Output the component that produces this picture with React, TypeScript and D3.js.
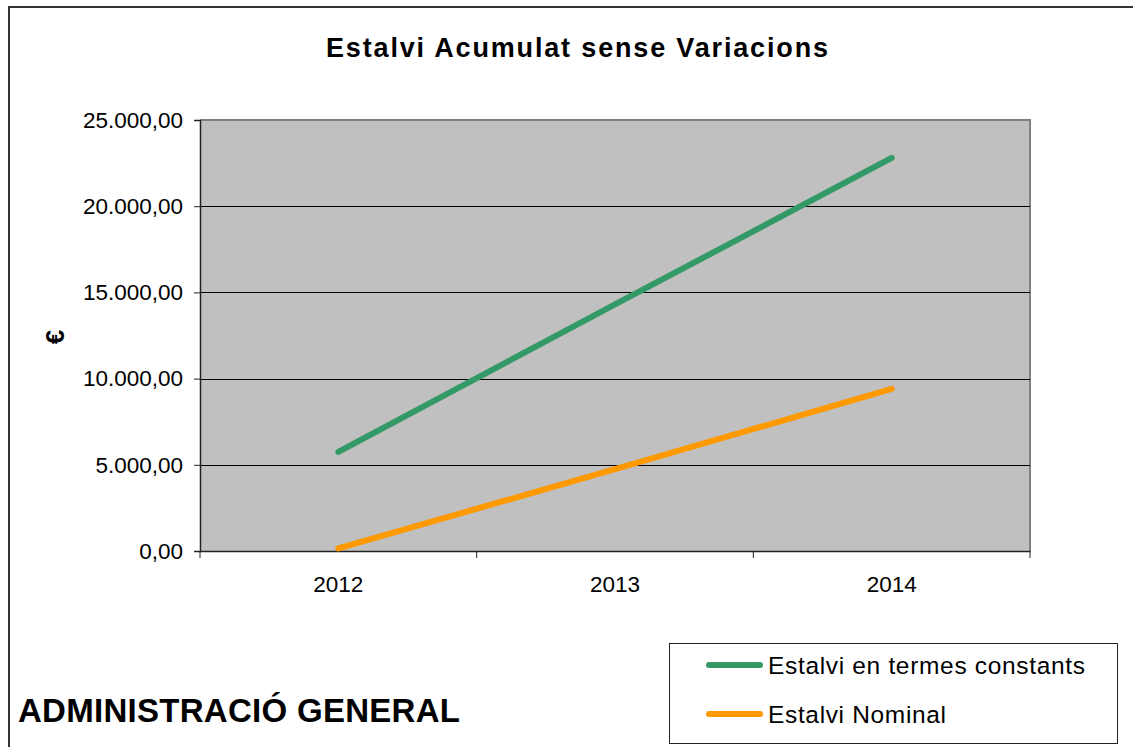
import { useEffect, useRef } from "react";
import * as d3 from "d3";

const years = ["2012", "2013", "2014"];
const constants = [5750, 14300, 22800];
const nominal = [150, 4750, 9400];
const yTicks = [0, 5000, 10000, 15000, 20000, 25000];

const series = [
  { name: "Estalvi en termes constants", values: constants, color: "#339966" },
  { name: "Estalvi Nominal", values: nominal, color: "#ff9900" },
];

const font = "'Liberation Sans', Arial, sans-serif";

const App = () => {
  const svgRef = useRef<SVGSVGElement>(null);

  useEffect(() => {
    const W = 1133;
    const H = 747;
    // plot area in page coords
    const plot = { left: 200, top: 120, right: 1030, bottom: 551 };

    d3.select(svgRef.current).selectAll("*").remove();
    const svg = d3
      .select(svgRef.current)
      .attr("width", W)
      .attr("height", H)
      .style("font-family", font);

    // chart frame (runs off the right/bottom of the page)
    svg
      .append("rect")
      .attr("x", 9)
      .attr("y", 7)
      .attr("width", 1160)
      .attr("height", 780)
      .attr("fill", "white")
      .attr("stroke", "#333")
      .attr("stroke-width", 2);

    const locale = d3.formatLocale({
      decimal: ",",
      thousands: ".",
      grouping: [3],
      currency: ["", "€"],
    });
    const fmt = locale.format(",.2f");

    const x = d3
      .scaleBand()
      .domain(years)
      .range([plot.left, plot.right]);

    const y = d3
      .scaleLinear()
      .domain([0, 25000])
      .range([plot.bottom, plot.top]);

    // plot background
    svg
      .append("rect")
      .attr("x", plot.left)
      .attr("y", plot.top)
      .attr("width", plot.right - plot.left)
      .attr("height", plot.bottom - plot.top)
      .attr("fill", "#c0c0c0");

    // top and right border
    svg
      .append("path")
      .attr("d", `M${plot.left},${plot.top}H${plot.right}V${plot.bottom}`)
      .attr("fill", "none")
      .attr("stroke", "#808080")
      .attr("stroke-width", 2);

    // gridlines
    svg
      .append("g")
      .selectAll("line")
      .data(yTicks.slice(1, -1))
      .enter()
      .append("line")
      .attr("x1", plot.left)
      .attr("x2", plot.right)
      .attr("y1", (d) => Math.round(y(d)) + 0.5)
      .attr("y2", (d) => Math.round(y(d)) + 0.5)
      .attr("stroke", "black")
      .attr("stroke-width", 1);

    // Y axis
    const yAxis = svg
      .append("g")
      .attr("transform", `translate(${plot.left},0)`)
      .call(
        d3
          .axisLeft(y)
          .tickValues(yTicks)
          .tickSize(6)
          .tickPadding(11)
          .tickFormat((d) => fmt(d as number))
      );
    yAxis.select(".domain").attr("stroke", "#222").attr("stroke-width", 1.5);
    yAxis.selectAll(".tick line").attr("stroke", "#222");
    yAxis
      .selectAll("text")
      .attr("fill", "black")
      .style("font-family", font)
      .style("font-size", "22.5px");

    // X axis (ticks between categories)
    const xAxis = svg
      .append("g")
      .attr("transform", `translate(0,${plot.bottom})`)
      .call(d3.axisBottom(x).tickSize(0).tickPadding(25));
    xAxis.select(".domain").attr("stroke", "#222").attr("stroke-width", 1.5);
    xAxis
      .selectAll("text")
      .attr("fill", "black")
      .style("font-family", font)
      .style("font-size", "22.5px");

    const bounds = [...years.map((d) => x(d) as number), plot.right];
    svg
      .append("g")
      .selectAll("line")
      .data(bounds)
      .enter()
      .append("line")
      .attr("x1", (d) => d)
      .attr("x2", (d) => d)
      .attr("y1", plot.bottom)
      .attr("y2", plot.bottom + 7)
      .attr("stroke", "#222");

    // lines
    const line = d3
      .line<number>()
      .x((_, i) => (x(years[i]) as number) + x.bandwidth() / 2)
      .y((d) => y(d));

    series.forEach((s) => {
      svg
        .append("path")
        .datum(s.values)
        .attr("fill", "none")
        .attr("stroke", s.color)
        .attr("stroke-width", 6)
        .attr("stroke-linecap", "round")
        .attr("stroke-linejoin", "round")
        .attr("d", line);
    });

    // title
    svg
      .append("text")
      .attr("x", 326)
      .attr("y", 57)
      .attr("textLength", 502)
      .attr("lengthAdjust", "spacing")
      .style("font-size", "27px")
      .style("font-weight", "bold")
      .text("Estalvi Acumulat sense Variacions");

    // y axis title
    svg
      .append("text")
      .attr("transform", "translate(64,337) rotate(-90)")
      .attr("text-anchor", "middle")
      .style("font-size", "26px")
      .style("font-weight", "bold")
      .text("€");

    // footer label
    svg
      .append("text")
      .attr("x", 18)
      .attr("y", 722)
      .attr("textLength", 442)
      .attr("lengthAdjust", "spacing")
      .style("font-size", "33px")
      .style("font-weight", "bold")
      .text("ADMINISTRACIÓ GENERAL");

    // legend
    const legend = svg.append("g");
    legend
      .append("rect")
      .attr("x", 669.5)
      .attr("y", 643.5)
      .attr("width", 448)
      .attr("height", 100)
      .attr("fill", "white")
      .attr("stroke", "#222")
      .attr("stroke-width", 1);

    const legendWidths = [317, 178];
    series.forEach((s, i) => {
      const ly = 665 + i * 49;
      legend
        .append("line")
        .attr("x1", 709)
        .attr("x2", 760)
        .attr("y1", ly)
        .attr("y2", ly)
        .attr("stroke", s.color)
        .attr("stroke-width", 6)
        .attr("stroke-linecap", "round");
      legend
        .append("text")
        .attr("x", 768)
        .attr("y", ly + 9)
        .attr("textLength", legendWidths[i])
        .attr("lengthAdjust", "spacing")
        .style("font-size", "24.5px")
        .text(s.name);
    });
  }, []);

  return (
    <svg
      ref={svgRef}
      style={{ position: "absolute", left: 0, top: 0, display: "block" }}
    ></svg>
  );
};

export default App;
